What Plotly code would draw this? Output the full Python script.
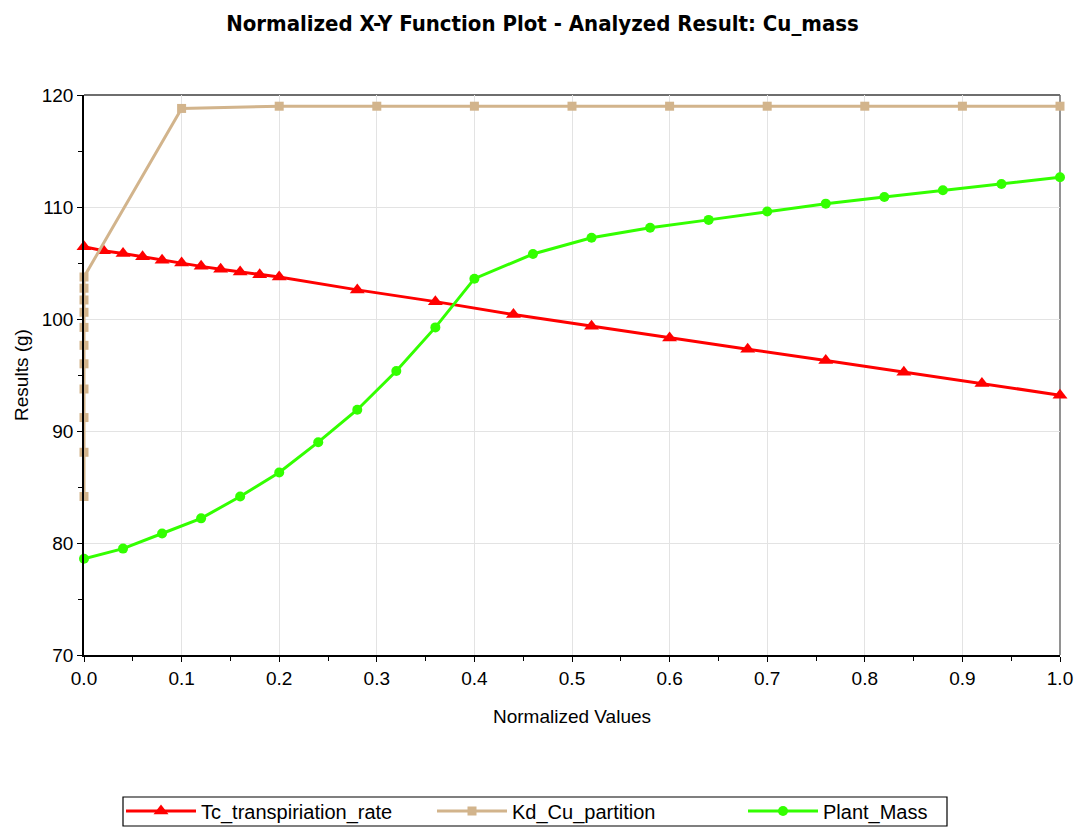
import plotly.graph_objects as go

# ---- data ----
tc_x = [0.0, 0.02, 0.04, 0.06, 0.08, 0.10, 0.12, 0.14, 0.16, 0.18, 0.20,
        0.28, 0.36, 0.44, 0.52, 0.60, 0.68, 0.76, 0.84, 0.92, 1.00]
tc_y = [106.45, 106.1, 105.85, 105.55, 105.25, 105.0, 104.7, 104.45, 104.2, 103.95, 103.75,
        102.6, 101.55, 100.4, 99.35, 98.3, 97.3, 96.3, 95.25, 94.25, 93.2]

kd_x = [0.0, 0.0, 0.0, 0.0, 0.0, 0.0, 0.0, 0.0, 0.0, 0.0, 0.0,
        0.1, 0.2, 0.3, 0.4, 0.5, 0.6, 0.7, 0.8, 0.9, 1.0]
kd_y = [84.15, 88.1, 91.2, 93.75, 96.0, 97.65, 99.25, 100.6, 101.7, 102.75, 103.75,
        118.8, 119.0, 119.0, 119.0, 119.0, 119.0, 119.0, 119.0, 119.0, 119.0]

pm_x = [0.0, 0.04, 0.08, 0.12, 0.16, 0.20, 0.24, 0.28, 0.32, 0.36, 0.40,
        0.46, 0.52, 0.58, 0.64, 0.70, 0.76, 0.82, 0.88, 0.94, 1.00]
pm_y = [78.6, 79.5, 80.85, 82.2, 84.15, 86.3, 89.0, 91.9, 95.35, 99.25, 103.6,
        105.8, 107.25, 108.15, 108.85, 109.6, 110.3, 110.9, 111.5, 112.05, 112.65]

series_names = ["Tc_transpiriation_rate", "Kd_Cu_partition", "Plant_Mass"]
x_ticks = [0.0, 0.1, 0.2, 0.3, 0.4, 0.5, 0.6, 0.7, 0.8, 0.9, 1.0]
y_ticks = [70, 80, 90, 100, 110, 120]

FONT = "Liberation Sans, Arial, sans-serif"

fig = go.Figure()
fig.add_trace(go.Scatter(
    x=tc_x, y=tc_y, name=series_names[0], mode="lines+markers",
    line=dict(color="#ff0000", width=3),
    marker=dict(symbol="triangle-up", size=13, color="#ff0000"),
    cliponaxis=False))
fig.add_trace(go.Scatter(
    x=kd_x, y=kd_y, name=series_names[1], mode="lines+markers",
    line=dict(color="#d2b48c", width=3),
    marker=dict(symbol="square", size=9, color="#d2b48c"),
    cliponaxis=False))
fig.add_trace(go.Scatter(
    x=pm_x, y=pm_y, name=series_names[2], mode="lines+markers",
    line=dict(color="#33ff00", width=3),
    marker=dict(symbol="circle", size=10, color="#33ff00"),
    cliponaxis=False))

fig.update_layout(
    width=1085, height=827,
    margin=dict(l=84, r=25, t=95, b=172, autoexpand=False),
    paper_bgcolor="white", plot_bgcolor="white",
    font=dict(family=FONT, size=19, color="black"),
    title=dict(text="<b>Normalized X-Y Function Plot - Analyzed Result: Cu_mass</b>",
               x=0.5, xanchor="center", y=0.972, yanchor="middle",
               font=dict(family="Liberation Sans Narrow, Arial Narrow, DejaVu Sans Condensed, sans-serif",
                         size=22, color="black")),
    showlegend=True,
    legend=dict(orientation="h", x=121 / 1085, xref="container", xanchor="left",
                y=1 - 811 / 827, yref="container", yanchor="middle",
                borderwidth=0, bgcolor="rgba(0,0,0,0)",
                font=dict(family=FONT, size=20, color="black"),
                itemwidth=70, entrywidth=226, entrywidthmode="pixels"),
    xaxis=dict(range=[0, 1], tickvals=x_ticks, tickformat=".1f",
               showgrid=True, gridcolor="#e3e3e3", gridwidth=1,
               showline=True, linecolor="black", linewidth=1.5,
               ticks="outside", ticklen=5, tickcolor="black",
               minor=dict(dtick=0.05, ticks="outside", ticklen=4, tickcolor="black", showgrid=False),
               zeroline=False,
               title=dict(text="Normalized Values", font=dict(size=19), standoff=22),
               tickfont=dict(size=19)),
    yaxis=dict(range=[70, 120], tickvals=y_ticks,
               showgrid=True, gridcolor="#e3e3e3", gridwidth=1,
               showline=True, linecolor="black", linewidth=1.5,
               ticks="outside", ticklen=5, tickcolor="black",
               minor=dict(dtick=5, ticks="outside", ticklen=4, tickcolor="black", showgrid=False),
               zeroline=False,
               title=dict(text="Results (g)", font=dict(size=19), standoff=8),
               tickfont=dict(size=19)),
)

# gray top and right frame lines
fig.add_shape(type="line", xref="paper", yref="paper", x0=0, x1=1, y0=1, y1=1,
              line=dict(color="#6e6e6e", width=2), layer="below")
fig.add_shape(type="line", xref="paper", yref="paper", x0=1, x1=1, y0=0, y1=1,
              line=dict(color="#6e6e6e", width=1.5), layer="below")
# legend frame
fig.add_shape(type="rect", xref="paper", yref="paper",
              x0=(123 - 84) / 976, x1=(947 - 84) / 976,
              y0=(655 - 826) / 560, y1=(655 - 797) / 560,
              line=dict(color="black", width=1.2), fillcolor="rgba(0,0,0,0)", layer="below")

fig.write_html("out.html")
